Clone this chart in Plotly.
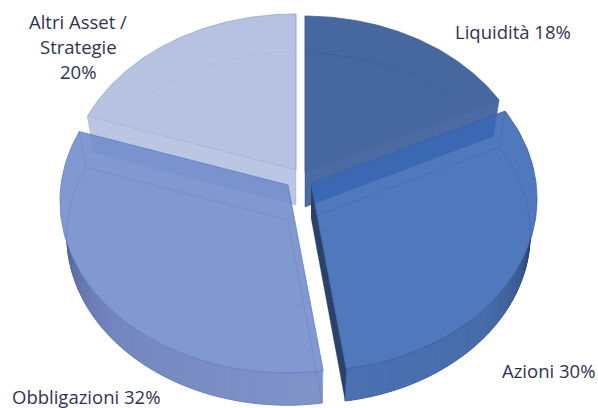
import math
import plotly.graph_objects as go

categories = ["Liquidità", "Azioni", "Obbligazioni", "Altri Asset / Strategie"]
shares = [18, 30, 32, 20]
label_lines = [["Liquidità 18%"], ["Azioni 30%"], ["Obbligazioni 32%"], ["Altri Asset /", "Strategie", "20%"]]

# drawing style (pixel space of the 598x408 page)
RX, RY, EX, EY = 227.0, 172.0, -1.0, -16.0
DEPTH, BX, BY = 35.0, 0.97, 0.985
apex = [(305, 172), (311, 183), (288, 185), (296, 170)]
face = [(47, 85, 147), (57, 103, 181), (113, 139, 203), (173, 186, 220)]
ALPHA = 0.89
rim_col = ["#3f6095", "#3c5f9e", "#5f80c8", "#8fa5d6"]
ghost = ["rgba(45,70,120,.3)", "rgba(45,80,140,.3)", "rgba(85,110,180,.35)", "rgba(140,155,200,.22)"]
edge_wall = ["#4c6aa3", None, None, "#bbc6e3"]
wall_stops = {
    1: [(85, (28, 48, 80)), (100, (38, 60, 100)), (115, (58, 90, 145)), (135, (72, 108, 170)), (173, (76, 113, 178))],
    2: [(173, (128, 148, 202)), (225, (116, 134, 190)), (250, (96, 112, 164)), (262, (76, 90, 132)), (275, (55, 65, 100))],
}
label_pos = [(513, 31), (548, 370), (86, 396), (78, 21)]
LINE_GAP = 25
TEXT = "#2f3352"


def rim(i, t, bottom=False):
    """Point on a slice's rim at pie angle t (degrees clockwise from 12 o'clock)."""
    a = math.radians(t)
    u, v = math.sin(a), math.cos(a)
    r = 1.27 if v > 0 else 1.5
    dx, dy = r * u, v
    A = (dx / RX) ** 2 + (dy / RY) ** 2
    B = 2 * (dx * (-EX) / RX ** 2 + dy * (-EY) / RY ** 2)
    C = (EX / RX) ** 2 + (EY / RY) ** 2 - 1
    s = (-B + math.sqrt(B * B - 4 * A * C)) / (2 * A)
    px, py = s * dx, s * dy
    ax, ay = apex[i]
    if bottom:
        return ax + BX * px, ay - BY * py + DEPTH
    return ax + px, ay - py


def lower_rim_y(i, x):
    """Screen y of the near half of the top rim, directly above a wall point."""
    ax, ay = apex[i]
    q = (x - ax - EX) / RX
    return ay - EY + RY * math.sqrt(max(0.0, 1 - q * q))


def centre(i, bottom=False):
    ax, ay = apex[i]
    return ax, ay + (DEPTH if bottom else 0)


def arc(i, t0, t1, bottom=False, n=80):
    return [rim(i, t0 + (t1 - t0) * k / n, bottom) for k in range(n + 1)]


def mix(stops, t):
    for (t0, c0), (t1, c1) in zip(stops, stops[1:]):
        if t0 <= t <= t1:
            f = (t - t0) / (t1 - t0)
            return "rgb(%d,%d,%d)" % tuple(c0[j] + (c1[j] - c0[j]) * f for j in range(3))
    c = stops[0][1] if t < stops[0][0] else stops[-1][1]
    return "rgb(%d,%d,%d)" % c


fig = go.Figure()


def poly(pts, fill=None, line=None, w=0.8, closed=True):
    xs, ys = zip(*pts)
    xs, ys = list(xs), list(ys)
    if closed:
        xs.append(xs[0])
        ys.append(ys[0])
    fig.add_trace(go.Scatter(
        x=xs, y=ys, mode="lines", hoverinfo="skip", showlegend=False,
        fill="toself" if fill else "none", fillcolor=fill,
        line=dict(color=line or "rgba(0,0,0,0)", width=w if line else 0),
    ))


total = sum(shares)
starts, c = [], 0
for v in shares:
    starts.append((c, c + v))
    c += v
angles = [(a * 360 / total, b * 360 / total) for a, b in starts]

for i in [3, 0, 2, 1]:
    t0, t1 = angles[i]
    # outer wall: only the part that shows below the top rim, as shaded strips
    if i in wall_stops:
        m = 110
        for k in range(m):
            a = t0 + (t1 - t0) * k / m
            b = t0 + (t1 - t0) * (k + 1) / m
            pa, pb = rim(i, a, True), rim(i, b, True)
            ya, yb = lower_rim_y(i, pa[0]), lower_rim_y(i, pb[0])
            if math.cos(math.radians(a)) > 0.2 or (pa[1] <= ya and pb[1] <= yb):
                continue
            col = mix(wall_stops[i], (a + b) / 2)
            poly([(pa[0], min(ya, pa[1])), (pb[0], min(yb, pb[1])), pb, pa], fill=col, line=col, w=1)
    # side wall of the slice's right-hand cut, for Azioni
    if i == 1:
        poly([centre(i), rim(i, t1), rim(i, t1, True), centre(i, True)], fill="#2b4268")
    # top face
    r, g, b = face[i]
    top = [centre(i)] + arc(i, t0, t1)
    poly(top, fill="rgba(%d,%d,%d,%.2f)" % (r, g, b, ALPHA), line=rim_col[i])
    # front cut wall of the back slices
    if edge_wall[i]:
        ang = t1 if i == 0 else t0
        poly([centre(i), rim(i, ang), rim(i, ang, True), centre(i, True)],
             fill=edge_wall[i], line=ghost[i], w=0.7)
    # outline of the bottom face, seen through the top
    poly([centre(i, True)] + arc(i, t0, t1, True), line=ghost[i], w=0.8)
    # vertical corner edges
    for ang in (t0, t1):
        poly([rim(i, ang), rim(i, ang, True)], line=ghost[i], w=0.7, closed=False)

for lines, (x, y) in zip(label_lines, label_pos):
    for k, text in enumerate(lines):
        fig.add_annotation(x=x, y=y + k * LINE_GAP, text=text, showarrow=False,
                           xanchor="center", yanchor="middle",
                           font=dict(family="Open Sans", size=18.5, color=TEXT))

fig.update_layout(
    width=598, height=408, margin=dict(l=0, r=0, t=0, b=0),
    paper_bgcolor="white", plot_bgcolor="white", showlegend=False,
    xaxis=dict(range=[0, 598], visible=False, fixedrange=True),
    yaxis=dict(range=[408, 0], visible=False, fixedrange=True),
)
fig.write_html("out.html", config={"displayModeBar": False},
               post_script="document.body.style.margin='0';document.documentElement.style.overflow='hidden';")
